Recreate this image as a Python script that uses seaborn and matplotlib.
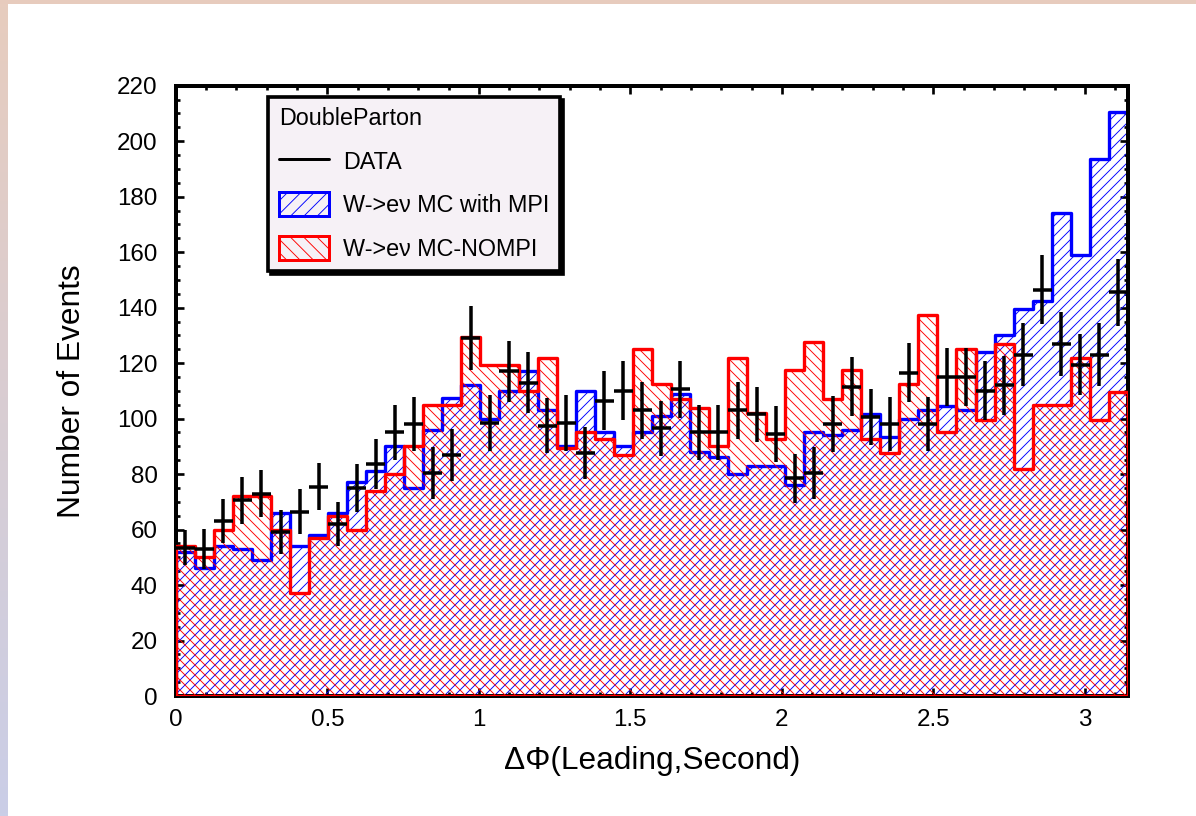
import numpy as np
import pandas as pd
import matplotlib
matplotlib.use("Agg")
import matplotlib.pyplot as plt
import seaborn as sns
from matplotlib.patches import Patch, Rectangle
from matplotlib.lines import Line2D
from matplotlib.ticker import MultipleLocator

# ---------------- data ----------------
n_bins = 50
x_min, x_max = 0.0, np.pi

mc_mpi = [52, 46, 54, 53, 49, 66, 54, 58, 66, 77,
          81, 90, 75, 96, 107.5, 112, 100, 110, 117, 103,
          90, 110, 95, 90, 95, 101, 109, 88, 86, 80,
          83, 83, 76, 95, 94, 96, 101.5, 93.5, 100, 103,
          104.5, 103, 124, 130, 139.5, 142.5, 174, 159, 193.5, 210.5]

mc_nompi = [54, 50, 60, 72, 72, 60, 37, 57, 65, 60,
            74, 80, 90, 105, 105, 129.5, 119.5, 119.5, 110, 122,
            89.5, 95, 92.5, 87, 125, 112.5, 107, 104, 90, 122,
            102, 92.5, 117.5, 127.5, 107, 117.5, 92.5, 87.5, 112.5, 137.5,
            95, 125, 99.5, 127, 82, 105, 105, 122, 99.5, 109.5]

data_vals = [53.5, 53, 63, 70.5, 73, 59, 66.5, 75.5, 62, 75,
             83.5, 95, 98, 80.5, 87, 129, 98.5, 117, 113, 97.5,
             98.5, 87.5, 106.5, 110, 103, 96.5, 110.5, 95, 95, 103,
             101.5, 94.5, 78.5, 80.5, 98, 111.5, 100.5, 98, 116.5, 98,
             115, 115, 110, 112, 123, 146.5, 127, 119.5, 123, 145.5]

data_err = [6.3, 7.2, 8, 8.5, 8.6, 7.9, 8, 8.5, 7.9, 8.7,
            9, 10, 9.7, 9.4, 9.4, 11.5, 10, 10.9, 10.9, 10,
            10, 9.4, 10.5, 10.6, 10.3, 10, 10.4, 10, 9.8, 10.3,
            10, 10, 8.9, 9.4, 10, 10.6, 10, 9.8, 10.6, 9.7,
            10.6, 10.6, 10.6, 10.6, 11.3, 12.4, 11.5, 10.9, 11.3, 12]

x_ticks = [0, 0.5, 1, 1.5, 2, 2.5, 3]
x_tick_labels = ["0", "0.5", "1", "1.5", "2", "2.5", "3"]
y_ticks = list(range(0, 221, 20))

legend_title = "DoubleParton"
label_data = "DATA"
label_mpi = "W->eν MC with MPI"
label_nompi = "W->eν MC-NOMPI"
x_label = "ΔΦ(Leading,Second)"
y_label = "Number of Events"

# ---------------- build ----------------
edges = np.linspace(x_min, x_max, n_bins + 1)
centers = 0.5 * (edges[:-1] + edges[1:])
half_w = 0.5 * (edges[1] - edges[0])
bin_list = edges.tolist()

df = pd.DataFrame({"dphi": centers, "mpi": mc_mpi, "nompi": mc_nompi,
                   "data": data_vals, "err": data_err})

sns.set_theme(style="ticks")
plt.rcParams["font.family"] = ["Liberation Sans", "DejaVu Sans"]
plt.rcParams["hatch.linewidth"] = 0.55
plt.rcParams["text.color"] = "black"
plt.rcParams["axes.labelcolor"] = "black"
plt.rcParams["xtick.color"] = "black"
plt.rcParams["ytick.color"] = "black"

DPI = 120
fig = plt.figure(figsize=(1196 / DPI, 816 / DPI), dpi=DPI, facecolor="white")
ax = fig.add_axes([0.147, 0.147, 0.796, 0.748])

BLUE = "#0000ff"
RED = "#ff0000"

sns.histplot(data=df, x="dphi", weights="mpi", bins=bin_list, element="step",
             fill=True, color=BLUE, facecolor="none", edgecolor=BLUE, hatch="////",
             linewidth=2.0, ax=ax, zorder=2)
sns.histplot(data=df, x="dphi", weights="nompi", bins=bin_list, element="step",
             fill=True, color=RED, facecolor="none", edgecolor=RED, hatch="\\\\\\\\",
             linewidth=2.0, ax=ax, zorder=3)

ax.errorbar(df["dphi"], df["data"], yerr=df["err"], xerr=half_w,
            fmt="none", ecolor="black", elinewidth=2.1, capsize=0, zorder=5)

ax.set_xlim(x_min, x_max)
ax.set_ylim(0, 220)
ax.set_xticks(x_ticks)
ax.set_xticklabels(x_tick_labels)
ax.set_yticks(y_ticks)
ax.xaxis.set_minor_locator(MultipleLocator(0.1))
ax.yaxis.set_minor_locator(MultipleLocator(5))
ax.tick_params(which="both", direction="in", top=True, right=True,
               color="black", labelcolor="black", labelsize=14.5, width=1.6)
ax.tick_params(which="major", length=5, pad=8)
ax.tick_params(which="minor", length=2.5)
ax.tick_params(axis="y", which="major", pad=11)
for s in ax.spines.values():
    s.set_linewidth(2.4)
    s.set_color("black")
    s.set_visible(True)

ax.set_xlabel(x_label, fontsize=19, labelpad=9, color="black")
ax.set_ylabel(y_label, fontsize=19, labelpad=18, color="black")
ax.set_facecolor("white")

handles = [
    Line2D([0], [0], color="black", linewidth=1.8),
    Patch(facecolor="none", edgecolor=BLUE, hatch="///", linewidth=1.8),
    Patch(facecolor="none", edgecolor=RED, hatch="\\\\\\", linewidth=1.8),
]
leg = ax.legend(handles, [label_data, label_mpi, label_nompi],
                title=legend_title, alignment="left",
                loc="upper left", bbox_to_anchor=(0.097, 0.982),
                borderaxespad=0, fontsize=14, title_fontsize=14,
                handlelength=2.15, handleheight=1.2, handletextpad=0.6,
                labelspacing=0.8, borderpad=0.45, fancybox=False,
                framealpha=1, facecolor="#f6f1f6", edgecolor="black",
                shadow={"color": "black", "alpha": 1})
leg.get_frame().set_linewidth(2.2)
leg.set_zorder(10)

# decorative border of the slide
top_band = Rectangle((0, 1 - 4 / 816), 1, 4 / 816, transform=fig.transFigure,
                     facecolor="#e7cbbd", edgecolor="none", zorder=0)
fig.patches.append(top_band)
band_ax = fig.add_axes([0, 0, 8 / 1196, 1 - 4 / 816])
grad = np.linspace(0, 1, 256)[:, None]
c_top = np.array([231, 204, 190]) / 255
c_bot = np.array([202, 206, 231]) / 255
img = (c_top[None, None, :] * (1 - grad[..., None]) + c_bot[None, None, :] * grad[..., None])
band_ax.imshow(img, aspect="auto", extent=[0, 1, 0, 1])
band_ax.set_axis_off()

fig.savefig("out.png", dpi=DPI, facecolor="white")
